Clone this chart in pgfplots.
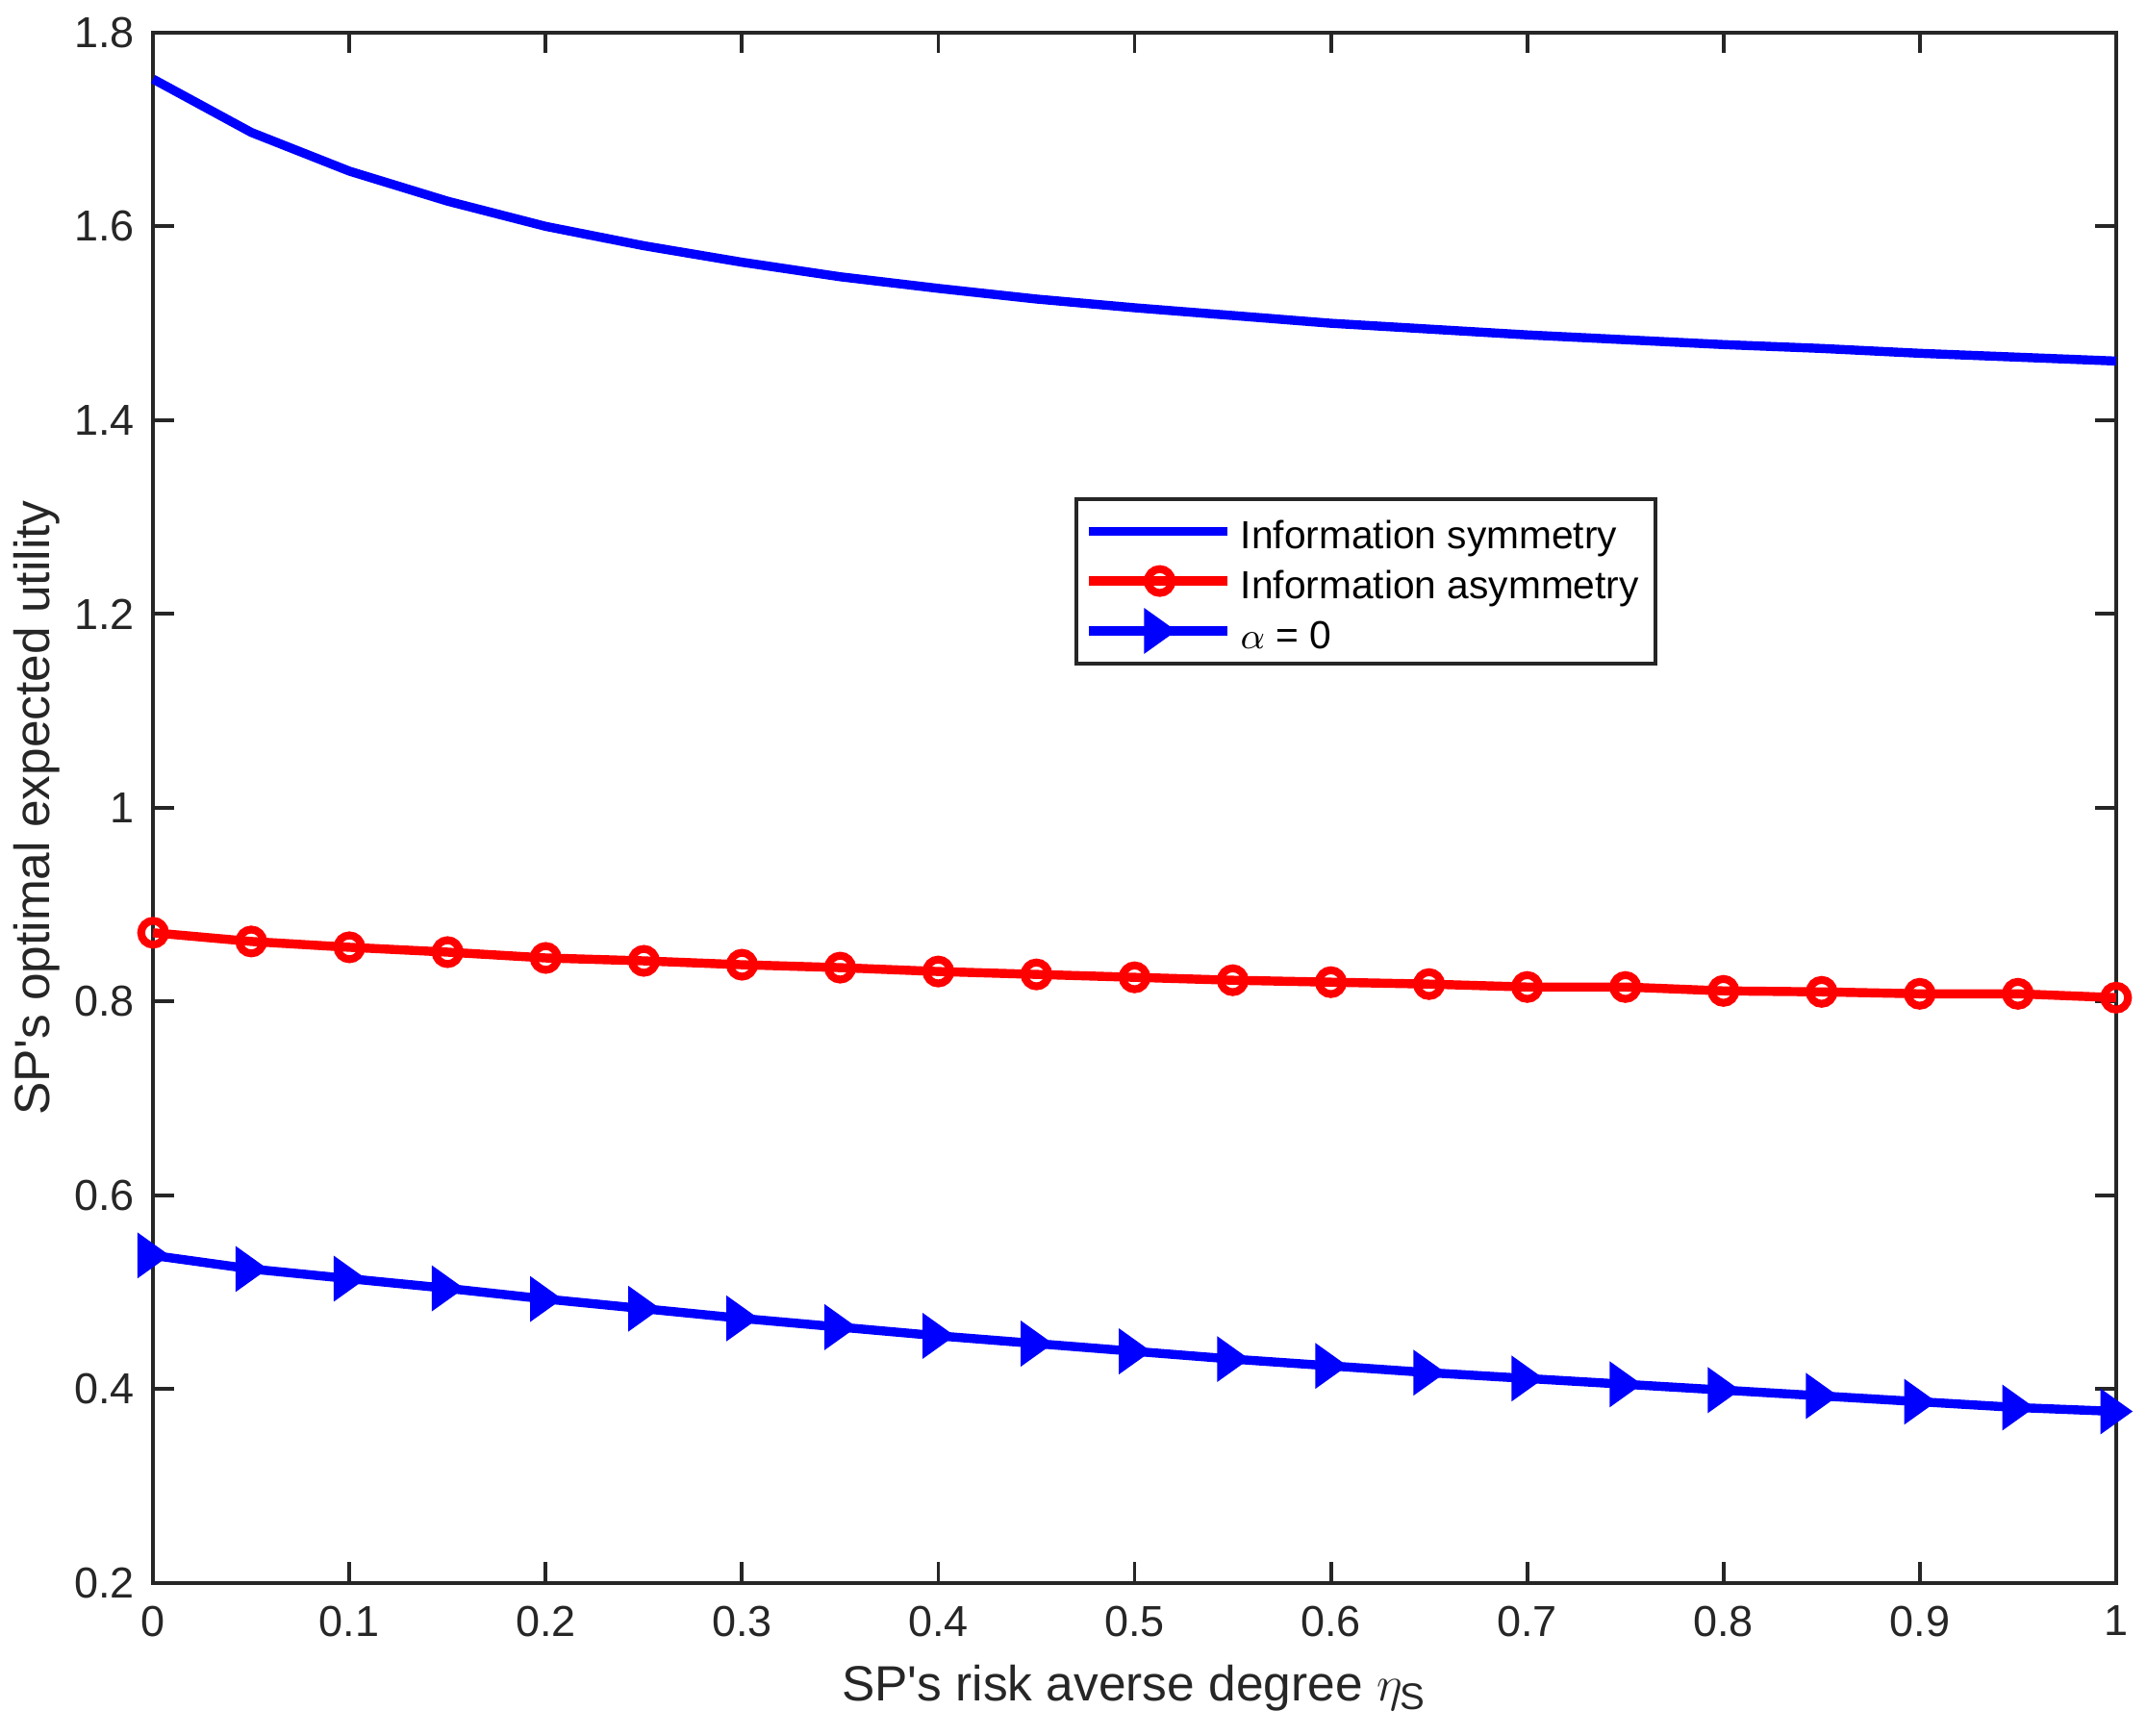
\documentclass[border=0pt]{standalone}
\usepackage{pgfplots}
\pgfplotsset{compat=1.18}
\usepackage{fontspec}
\setmainfont{Liberation Sans}
\definecolor{axgray}{rgb}{0.15,0.15,0.15}
\makeatletter
\pgfdeclareplotmark{rtri}{%
  \pgfpathmoveto{\pgfqpoint{0.7\pgfplotmarksize}{0pt}}%
  \pgfpathlineto{\pgfqpoint{-0.7\pgfplotmarksize}{\pgfplotmarksize}}%
  \pgfpathlineto{\pgfqpoint{-0.7\pgfplotmarksize}{-\pgfplotmarksize}}%
  \pgfpathclose
  \pgfusepathqfillstroke}
\makeatother
\begin{document}
\begin{tikzpicture}
\begin{axis}[
  scale only axis,
  width=476pt, height=376pt,
  xmin=0, xmax=1, ymin=0.2, ymax=1.8,
  xtick={0,0.1,...,1.0001},
  ytick={0.2,0.4,...,1.8001},
  /pgf/number format/assume math mode=true,
  tick align=inside,
  major tick length=5pt,
  axis line style={axgray, line width=0.9pt},
  every tick/.style={axgray, line width=0.9pt},
  tick label style={font=\fontsize{10.5}{12}\selectfont, text=axgray},
  yticklabel style={xshift=-1pt},
  xticklabel style={yshift=-2pt},
  xlabel={SP\textquotesingle s risk averse degree $\eta_{\mbox{\fontsize{9}{10}\selectfont S}}$},
  ylabel={SP\textquotesingle s optimal expected utility},
  every axis x label/.style={at={([yshift=-25.5pt]axis description cs:0.5,0)}, anchor=center,
    font=\fontsize{12}{14}\selectfont, text=axgray},
  every axis y label/.style={at={([xshift=-28.2pt]axis description cs:0,0.5)}, anchor=center, rotate=90,
    font=\fontsize{12}{14}\selectfont, text=axgray},
  legend style={at={(rel axis cs:0.4695,0.7005)}, anchor=north west, draw=axgray, line width=0.9pt,
    font=\fontsize{9.5}{11}\selectfont, inner xsep=2pt, inner ysep=3.6pt, row sep=3.6pt,
    nodes={inner ysep=0pt, text height=8.5pt, text depth=0pt}},
  legend cell align=left,
  legend image code/.code={
    \draw[overlay, mark repeat=2,mark phase=2] plot coordinates {(0cm,0cm) (0.6cm,0cm) (1.18cm,0cm)};
    \path (0cm,0cm) (1.18cm,0cm);},
  clip=false,
]
\addplot[blue, line width=2.2pt] coordinates {
(0,1.752) (0.05,1.697) (0.1,1.657) (0.15,1.626) (0.2,1.600) (0.25,1.580)
(0.3,1.563) (0.35,1.548) (0.4,1.536) (0.45,1.525) (0.5,1.516) (0.55,1.508)
(0.6,1.500) (0.65,1.494) (0.7,1.488) (0.75,1.483) (0.8,1.478) (0.85,1.474)
(0.9,1.469) (0.95,1.465) (1.0,1.461)};
\addlegendentry{Information symmetry}
\addplot[red, line width=2.2pt, mark=o, mark size=2.9pt, mark options={solid, line width=1.9pt}] coordinates {
(0,0.871) (0.05,0.862) (0.1,0.856) (0.15,0.851) (0.2,0.845) (0.25,0.842)
(0.3,0.838) (0.35,0.835) (0.4,0.831) (0.45,0.828) (0.5,0.825) (0.55,0.822)
(0.6,0.820) (0.65,0.818) (0.7,0.815) (0.75,0.815) (0.8,0.811) (0.85,0.810)
(0.9,0.808) (0.95,0.808) (1.0,0.804)};
\addlegendentry{Information asymmetry}
\addplot[blue, line width=2.2pt, mark=rtri, mark size=5pt, mark options={solid, fill=blue, line width=0.6pt, line join=miter}] coordinates {
(0,0.538) (0.05,0.524) (0.1,0.514) (0.15,0.504) (0.2,0.493) (0.25,0.483)
(0.3,0.473) (0.35,0.464) (0.4,0.455) (0.45,0.447) (0.5,0.439) (0.55,0.431)
(0.6,0.424) (0.65,0.417) (0.7,0.411) (0.75,0.405) (0.8,0.399) (0.85,0.393)
(0.9,0.387) (0.95,0.381) (1.0,0.377)};
\addlegendentry{$\alpha$ = 0}
\coordinate (A) at (rel axis cs:0,0);
\coordinate (B) at (rel axis cs:1,1);
\end{axis}
\path ([shift={(-37.1pt,-37.1pt)}]A) rectangle ([shift={(7.5pt,7.9pt)}]B);
\end{tikzpicture}
\end{document}
